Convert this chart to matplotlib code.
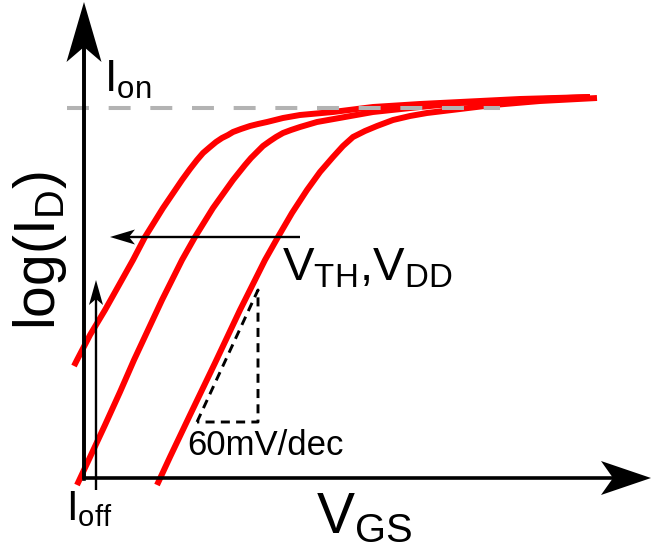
import numpy as np
import matplotlib
matplotlib.use("Agg")
import matplotlib.pyplot as plt
from matplotlib.patches import Polygon

plt.rcParams['font.family'] = ['Liberation Sans', 'DejaVu Sans']
plt.rcParams['mathtext.fontset'] = 'custom'
plt.rcParams['mathtext.rm'] = 'Liberation Sans'
plt.rcParams['mathtext.it'] = 'Liberation Sans'
plt.rcParams['lines.scale_dashes'] = False

# curves (pixel coords, y downwards)
curve1_x = [74, 77, 90, 105, 119, 133, 145, 163, 182, 190, 197, 203, 210, 216, 222, 228, 233, 241, 250, 258, 267, 283, 300, 333, 373, 420, 460, 520, 590]
curve1_y = [366, 360, 335, 310, 285, 260, 237, 208, 180, 169, 160, 153, 147, 142, 138, 135, 132, 129, 126, 124, 122, 118, 115, 112, 107, 104, 102, 99, 97]
curve2_x = [77, 91, 105, 120, 134, 148, 162, 172, 182, 195, 213, 233, 245, 251, 257, 263, 270, 276, 283, 291, 300, 317, 345, 373, 420, 460, 520, 590]
curve2_y = [485, 455, 425, 392, 360, 330, 300, 280, 260, 237, 208, 180, 165, 158, 152, 146, 141, 137, 133, 130, 127, 122, 117, 112, 107, 103, 100, 97]
curve3_x = [157, 170, 190, 215, 240, 265, 278, 292, 307, 320, 333, 343, 353, 365, 377, 393, 410, 427, 460, 493, 540, 597]
curve3_y = [485, 457, 415, 363, 310, 260, 237, 213, 190, 172, 157, 146, 137, 131, 126, 120, 116, 113, 109, 105, 101, 98]

ion_y = 108
slope_tri_x = [197, 258, 258, 197]
slope_tri_y = [422, 290, 422, 422]


def stealth(ax, tip, direction, length, width, notch, lw, start):
    d = np.array(direction, dtype=float)
    d = d / np.linalg.norm(d)
    n = np.array([-d[1], d[0]])
    tip = np.array(tip, dtype=float)
    back = tip - d * length
    neck = tip - d * (length - notch)
    ax.plot([start[0], neck[0]], [start[1], neck[1]], color='k', lw=lw,
            solid_capstyle='butt', zorder=5)
    pts = [tip, back + n * width / 2, neck, back - n * width / 2]
    ax.add_patch(Polygon(pts, closed=True, facecolor='k', edgecolor='none', zorder=6))


fig = plt.figure(figsize=(6.52, 5.52), dpi=100)
ax = fig.add_axes([0, 0, 1, 1])
ax.set_xlim(0, 652)
ax.set_ylim(552, 0)
ax.axis('off')

for cx, cy in [(curve1_x, curve1_y), (curve2_x, curve2_y), (curve3_x, curve3_y)]:
    ax.plot(cx, cy, color='#ff0000', lw=4.3, solid_capstyle='butt',
            solid_joinstyle='round', zorder=3)

# I_on level
ax.plot([67, 500], [ion_y, ion_y], color='#b3b3b3', lw=2.9,
        dashes=(15.8, 14.2), zorder=4)

# slope triangle
ax.plot(slope_tri_x, slope_tri_y, color='k', lw=2.1, dashes=(6.5, 4.5), zorder=4)

# axes
ax.plot([84, 84], [479, 40], color='k', lw=2.6, solid_capstyle='projecting', zorder=5)
stealth(ax, (84, 2), (0, -1), 60, 35, 15, 2.6, (84, 479))
stealth(ax, (651, 478), (1, 0), 50, 34, 12, 2.6, (83, 478))

# shift arrows
stealth(ax, (110, 237), (-1, 0), 25, 15, 6, 1.7, (300, 237))
stealth(ax, (96, 280), (0, -1), 25, 14, 6, 1.7, (96, 490))

# labels
ax.text(104, 92, r'I$_\mathrm{on}$', fontsize=32, va='baseline', ha='left')
ax.text(40, 250, r'log(I$_\mathrm{D}$)', fontsize=41, rotation=90,
        va='center', ha='center')
ax.text(282, 280, r'V$_\mathrm{TH}$,V$_\mathrm{DD}$', fontsize=34, va='baseline', ha='left')
ax.text(316, 533, r'V$_\mathrm{GS}$', fontsize=41, va='baseline', ha='left')
ax.text(66, 520, r'I$_\mathrm{off}$', fontsize=30, va='baseline', ha='left')
ax.text(187, 455, '60mV/dec', fontsize=25, va='baseline', ha='left')

fig.savefig('out.png', dpi=100)
